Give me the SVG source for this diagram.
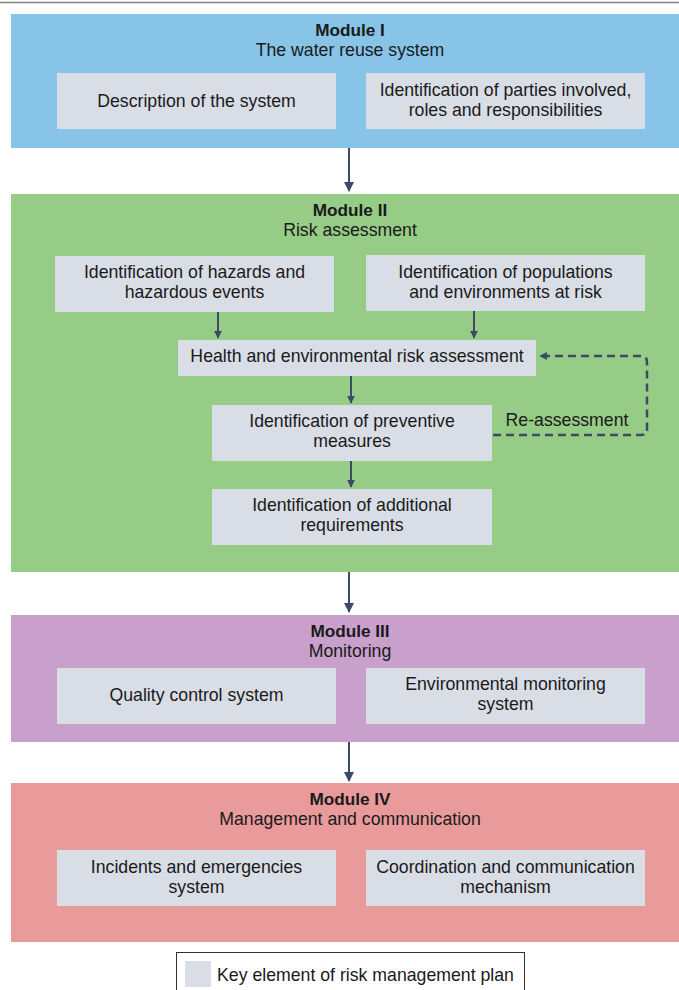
<svg xmlns="http://www.w3.org/2000/svg" width="679" height="990" viewBox="0 0 679 990">
<defs>
<style>
text{font-family:"Liberation Sans",Arial,sans-serif;font-size:17.7px;fill:#1a1a1a;text-anchor:middle}
.b{font-weight:bold;font-size:17.2px}
.box{fill:#d9dde6}
.arr{stroke:#3c4a66;stroke-width:2;fill:none}
.dash{stroke:#3c4a66;stroke-width:2.5;fill:none;stroke-dasharray:8 5}
</style>
<marker id="ah" viewBox="0 0 10 10" refX="9" refY="5" markerWidth="10" markerHeight="10" markerUnits="userSpaceOnUse" orient="auto">
<path d="M0,0 L10,5 L0,10 z" fill="#3c4a66"/>
</marker>
<marker id="ahs" viewBox="0 0 10 10" refX="9" refY="5" markerWidth="8" markerHeight="8" markerUnits="userSpaceOnUse" orient="auto">
<path d="M0,0 L10,5 L0,10 z" fill="#3c4a66"/>
</marker>
</defs>
<rect width="679" height="990" fill="#ffffff"/>
<line x1="0" y1="2.5" x2="679" y2="2.5" stroke="#808080" stroke-width="1.5"/>

<g id="module1">
<rect x="11" y="14" width="680" height="134" fill="#87c4e8"/>
<text x="350" y="36" class="b">Module I</text>
<text x="350" y="56">The water reuse system</text>
</g>
<g id="desc">
<rect class="box" x="57" y="73" width="279" height="56"/>
<text x="196.5" y="107">Description of the system</text>
</g>
<g id="parties">
<rect class="box" x="366" y="73" width="279" height="56"/>
<text x="505.5" y="96">Identification of parties involved,</text>
<text x="505.5" y="116">roles and responsibilities</text>
</g>

<g id="module2">
<rect x="11" y="194" width="680" height="378" fill="#96cc86"/>
<text x="350" y="216" class="b">Module II</text>
<text x="350" y="236">Risk assessment</text>
</g>
<g id="hazards">
<rect class="box" x="55" y="256" width="279" height="56"/>
<text x="194.5" y="278">Identification of hazards and</text>
<text x="194.5" y="298">hazardous events</text>
</g>
<g id="populations">
<rect class="box" x="366" y="255" width="279" height="56"/>
<text x="505.5" y="278">Identification of populations</text>
<text x="505.5" y="298">and environments at risk</text>
</g>
<g id="health">
<rect class="box" x="178" y="340" width="358" height="36"/>
<text x="357" y="362">Health and environmental risk assessment</text>
</g>
<g id="preventive">
<rect class="box" x="212" y="405" width="280" height="56"/>
<text x="352" y="427">Identification of preventive</text>
<text x="352" y="447">measures</text>
</g>
<g id="additional">
<rect class="box" x="212" y="489" width="280" height="56"/>
<text x="352" y="511">Identification of additional</text>
<text x="352" y="531">requirements</text>
</g>

<g id="module3">
<rect x="11" y="615" width="680" height="127" fill="#c9a0cb"/>
<text x="350" y="637" class="b">Module III</text>
<text x="350" y="657">Monitoring</text>
</g>
<g id="quality">
<rect class="box" x="57" y="668" width="279" height="56"/>
<text x="196.5" y="701">Quality control system</text>
</g>
<g id="envmon">
<rect class="box" x="366" y="668" width="279" height="56"/>
<text x="505.5" y="690">Environmental monitoring</text>
<text x="505.5" y="710">system</text>
</g>

<g id="module4">
<rect x="11" y="783" width="680" height="159" fill="#e99a9a"/>
<text x="350" y="805" class="b">Module IV</text>
<text x="350" y="825">Management and communication</text>
</g>
<g id="incidents">
<rect class="box" x="57" y="850" width="279" height="56"/>
<text x="196.5" y="873">Incidents and emergencies</text>
<text x="196.5" y="893">system</text>
</g>
<g id="coordination">
<rect class="box" x="366" y="850" width="279" height="56"/>
<text x="505.5" y="873">Coordination and communication</text>
<text x="505.5" y="893">mechanism</text>
</g>

<g id="connectors">
<line class="arr" x1="349" y1="148" x2="349" y2="191" marker-end="url(#ah)"/>
<line class="arr" x1="218" y1="312" x2="218" y2="338" marker-end="url(#ahs)"/>
<line class="arr" x1="474" y1="311" x2="474" y2="338" marker-end="url(#ahs)"/>
<line class="arr" x1="351" y1="376" x2="351" y2="403" marker-end="url(#ahs)"/>
<line class="arr" x1="351" y1="461" x2="351" y2="487" marker-end="url(#ahs)"/>
<line class="arr" x1="349" y1="572" x2="349" y2="612" marker-end="url(#ah)"/>
<line class="arr" x1="349" y1="742" x2="349" y2="781" marker-end="url(#ah)"/>
<path class="dash" d="M493,435 H641 Q647,435 647,429 V362 Q647,356 641,356 H540" marker-end="url(#ahs)"/>
<text x="567" y="426">Re-assessment</text>
</g>

<g id="legend">
<rect x="176.5" y="952.5" width="348" height="45" fill="#ffffff" stroke="#333333" stroke-width="1"/>
<rect class="box" x="185" y="961" width="26" height="26"/>
<text x="217" y="981" style="text-anchor:start">Key element of risk management plan</text>
</g>
</svg>
